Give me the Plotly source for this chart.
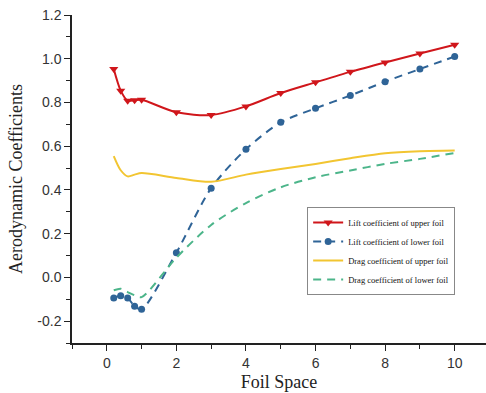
import plotly.graph_objects as go

x = [0.2, 0.4, 0.6, 0.8, 1.0, 2, 3, 4, 5, 6, 7, 8, 9, 10]
lift_upper = [0.953, 0.854, 0.808, 0.810, 0.812, 0.755, 0.743, 0.782, 0.843, 0.892, 0.940, 0.983, 1.024, 1.064]
lift_lower = [-0.094, -0.084, -0.094, -0.132, -0.146, 0.113, 0.408, 0.586, 0.709, 0.773, 0.832, 0.895, 0.953, 1.010]
drag_upper = [0.555, 0.490, 0.462, 0.470, 0.477, 0.455, 0.437, 0.470, 0.496, 0.519, 0.545, 0.568, 0.577, 0.580]
drag_lower = [-0.059, -0.052, -0.067, -0.082, -0.090, 0.090, 0.240, 0.340, 0.412, 0.458, 0.489, 0.519, 0.542, 0.569]

names = ["Lift coefficient of upper foil", "Lift coefficient of lower foil",
         "Drag coefficient of upper foil", "Drag coefficient of lower foil"]

fig = go.Figure()
fig.add_trace(go.Scatter(x=x, y=lift_upper, name=names[0], mode="lines+markers",
                         line=dict(color="#d0161b", width=2, shape="spline", smoothing=0.8),
                         marker=dict(symbol="triangle-down", size=8, color="#d0161b")))
fig.add_trace(go.Scatter(x=x, y=lift_lower, name=names[1], mode="lines+markers",
                         line=dict(color="#2f6497", width=2, dash="8px,6px", shape="spline", smoothing=0.8),
                         marker=dict(symbol="circle", size=7, color="#2f6497")))
fig.add_trace(go.Scatter(x=x, y=drag_upper, name=names[2], mode="lines",
                         line=dict(color="#f2c531", width=2, shape="spline", smoothing=0.8)))
fig.add_trace(go.Scatter(x=x, y=drag_lower, name=names[3], mode="lines",
                         line=dict(color="#4cb58a", width=2, dash="8px,6px", shape="spline", smoothing=0.8)))

axis_common = dict(
    showline=True, linecolor="#222", linewidth=1.5, showgrid=False, zeroline=False,
    ticks="outside", ticklen=6, tickwidth=1.2, tickcolor="#222",
    tickfont=dict(family="Liberation Sans, Arial", size=14, color="#333"),
    title_font=dict(family="Liberation Serif, Times New Roman", size=18, color="#222"),
)

fig.update_xaxes(range=[-1, 10.9], tickvals=[0, 2, 4, 6, 8, 10],
                 minor=dict(ticks="outside", ticklen=4, tickcolor="#222", dtick=1, tick0=1),
                 title_text="Foil Space", title_standoff=6, **axis_common)
fig.update_yaxes(range=[-0.3, 1.2], tickvals=[-0.2, 0.0, 0.2, 0.4, 0.6, 0.8, 1.0, 1.2],
                 ticktext=["-0.2", "0.0", "0.2", "0.4", "0.6", "0.8", "1.0", "1.2"],
                 minor=dict(ticks="outside", ticklen=4, tickcolor="#222", dtick=0.1, tick0=0.1),
                 title_text="Aerodynamic Coefficients", title_standoff=10, **axis_common)

fig.update_layout(
    width=486, height=393,
    margin=dict(l=72, r=0, t=15, b=50),
    paper_bgcolor="white", plot_bgcolor="white",
    legend=dict(x=0.568, y=0.415, xanchor="left", yanchor="top",
                bgcolor="white", bordercolor="#888", borderwidth=1,
                font=dict(family="Liberation Serif, Times New Roman", size=8.5, color="#111"),
                itemwidth=30, tracegroupgap=1),
)

fig.write_html("out.html")
